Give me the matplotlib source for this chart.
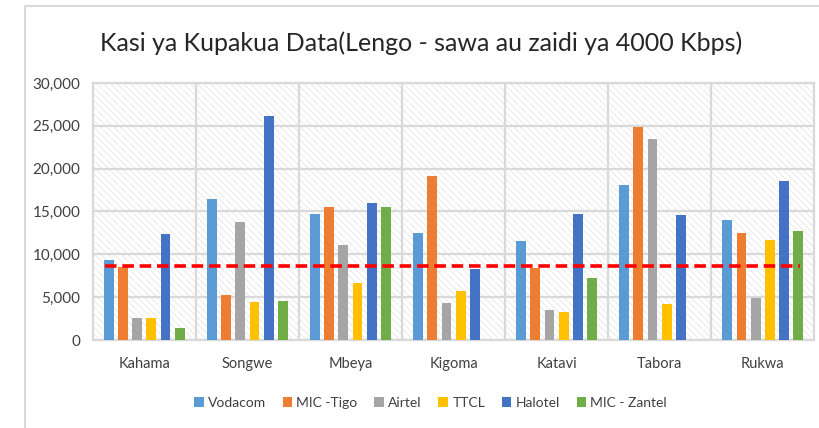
import matplotlib
matplotlib.use("Agg")
import matplotlib.pyplot as plt
import numpy as np
from matplotlib.patches import Rectangle
from matplotlib.lines import Line2D
from matplotlib.ticker import FuncFormatter, FixedLocator

plt.rcParams["font.family"] = ["Lato", "DejaVu Sans"]
plt.rcParams["hatch.linewidth"] = 0.6

regions = ["Kahama", "Songwe", "Mbeya", "Kigoma", "Katavi", "Tabora", "Rukwa"]
operators = ["Vodacom", "MIC -Tigo", "Airtel", "TTCL", "Halotel", "MIC - Zantel"]
colors = ["#5B9BD5", "#ED7D31", "#A5A5A5", "#FFC000", "#4472C4", "#70AD47"]

vodacom = [9350, 16500, 14700, 12450, 11550, 18100, 14000]
tigo = [8550, 5200, 15500, 19100, 8350, 24900, 12450]
airtel = [2600, 13800, 11050, 4300, 3550, 23500, 4950]
ttcl = [2600, 4450, 6700, 5700, 3300, 4200, 11700]
halotel = [12400, 26100, 15950, 8250, 14750, 14550, 18600]
zantel = [1350, 4550, 15500, 0, 7250, 0, 12700]
target = 8600

series = [vodacom, tigo, airtel, ttcl, halotel, zantel]

fig = plt.figure(figsize=(8.2, 4.28), dpi=100)
ax = fig.add_axes([0.1134, 0.2056, 0.8793, 0.6005])

grid_c = "#D9D9D9"

# hatched plot area background
bg = Rectangle((0, 0), 1, 1, transform=ax.transAxes, facecolor="white",
               edgecolor="#E6E6E6", hatch="\\" * 5, lw=0, zorder=0)
ax.add_patch(bg)

x = np.arange(len(regions))
step = 0.136
width = 0.097
for i, (vals, name, c) in enumerate(zip(series, operators, colors)):
    off = (i - 2.5) * step
    ax.bar(x + off, vals, width=width, color=c, label=name, zorder=3)

ax.plot([-0.38, 6.36], [target, target], color="#FF0000", lw=2.6,
        dashes=(3.2, 1.6), zorder=4)

ax.set_xlim(-0.5, 6.5)
ax.set_ylim(0, 30000)
ax.set_yticks(np.arange(0, 30001, 5000))
ax.yaxis.set_major_formatter(FuncFormatter(lambda v, p: f"{int(v):,}"))
ax.set_xticks(x)
ax.set_xticklabels(regions)
ax.xaxis.set_minor_locator(FixedLocator(np.arange(0.5, 6.5, 1)))
ax.grid(axis="y", which="major", color=grid_c, lw=1.6, zorder=1)
ax.grid(axis="x", which="minor", color=grid_c, lw=1.6, zorder=1)
ax.grid(axis="x", which="major", visible=False)
ax.set_axisbelow(True)
ax.tick_params(axis="both", which="both", length=0)
ax.tick_params(axis="y", pad=9, labelsize=11, labelcolor="#404040")
ax.tick_params(axis="x", pad=12, labelsize=10.5, labelcolor="#404040")
for s in ax.spines.values():
    s.set_color(grid_c)
    s.set_linewidth(1.6)

fig.text(0.513, 0.90, "Kasi ya Kupakua Data(Lengo - sawa au zaidi ya 4000 Kbps)",
         ha="center", va="center", fontsize=18, color="#262626")

handles, labels = ax.get_legend_handles_labels()
fig.legend(handles, labels, loc="center", bbox_to_anchor=(0.525, 0.058), ncol=6,
           frameon=False, fontsize=10, handlelength=0.7, handleheight=0.7,
           handletextpad=0.3, columnspacing=1.2, labelcolor="#404040")

# outer chart border
fig.add_artist(Line2D([25 / 820, 25 / 820], [0, 1 - 6 / 428], color=grid_c, lw=1.5))
fig.add_artist(Line2D([25 / 820, 1], [1 - 6 / 428, 1 - 6 / 428], color=grid_c, lw=1.5))

fig.savefig("out.png", dpi=100)
